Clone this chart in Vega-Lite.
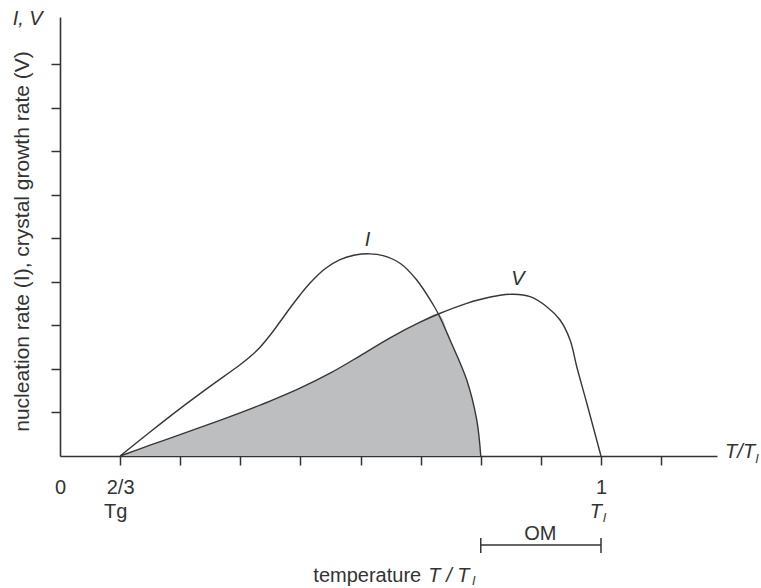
{
  "$schema": "https://vega.github.io/schema/vega-lite/v6.json",
  "autosize": "none",
  "width": 657,
  "height": 439,
  "padding": {"left": 60, "top": 17, "right": 44, "bottom": 132},
  "background": "white",
  "config": {
    "view": {"stroke": null},
    "font": "Liberation Sans",
    "text": {"font": "Liberation Sans", "color": "#333333", "fontSize": 20}
  },
  "datasets": {
    "curves": [
      {"curve": "I", "x": 1.0, "y": 0},
      {"curve": "I", "x": 1.498, "y": 0.551},
      {"curve": "I", "x": 1.997, "y": 1.088},
      {"curve": "I", "x": 2.496, "y": 1.598},
      {"curve": "I", "x": 2.995, "y": 2.094},
      {"curve": "I", "x": 3.161, "y": 2.278},
      {"curve": "I", "x": 3.328, "y": 2.496},
      {"curve": "I", "x": 3.494, "y": 2.772},
      {"curve": "I", "x": 3.661, "y": 3.082},
      {"curve": "I", "x": 3.827, "y": 3.398},
      {"curve": "I", "x": 3.993, "y": 3.697},
      {"curve": "I", "x": 4.16, "y": 3.972},
      {"curve": "I", "x": 4.409, "y": 4.3},
      {"curve": "I", "x": 4.659, "y": 4.51},
      {"curve": "I", "x": 4.909, "y": 4.615},
      {"curve": "I", "x": 5.158, "y": 4.642},
      {"curve": "I", "x": 5.374, "y": 4.6},
      {"curve": "I", "x": 5.657, "y": 4.425},
      {"curve": "I", "x": 5.935, "y": 4.041},
      {"curve": "I", "x": 6.211, "y": 3.467},
      {"curve": "I", "x": 6.295, "y": 3.261},
      {"curve": "I", "x": 6.489, "y": 2.664},
      {"curve": "I", "x": 6.767, "y": 1.745},
      {"curve": "I", "x": 6.933, "y": 0.827},
      {"curve": "I", "x": 7.0, "y": 0},
      {"curve": "V", "x": 1.0, "y": 0},
      {"curve": "V", "x": 1.498, "y": 0.248},
      {"curve": "V", "x": 1.997, "y": 0.489},
      {"curve": "V", "x": 2.496, "y": 0.737},
      {"curve": "V", "x": 2.995, "y": 0.992},
      {"curve": "V", "x": 3.494, "y": 1.261},
      {"curve": "V", "x": 3.993, "y": 1.557},
      {"curve": "V", "x": 4.493, "y": 1.901},
      {"curve": "V", "x": 4.992, "y": 2.301},
      {"curve": "V", "x": 5.491, "y": 2.714},
      {"curve": "V", "x": 5.99, "y": 3.072},
      {"curve": "V", "x": 6.295, "y": 3.261},
      {"curve": "V", "x": 6.767, "y": 3.506},
      {"curve": "V", "x": 6.988, "y": 3.593},
      {"curve": "V", "x": 7.321, "y": 3.69},
      {"curve": "V", "x": 7.542, "y": 3.713},
      {"curve": "V", "x": 7.82, "y": 3.658},
      {"curve": "V", "x": 8.098, "y": 3.428},
      {"curve": "V", "x": 8.319, "y": 3.123},
      {"curve": "V", "x": 8.486, "y": 2.664},
      {"curve": "V", "x": 8.597, "y": 2.05},
      {"curve": "V", "x": 8.764, "y": 1.21},
      {"curve": "V", "x": 9.0, "y": 0}
    ],
    "shade": [
      {"x": 1.0, "y": 0},
      {"x": 1.498, "y": 0.248},
      {"x": 1.997, "y": 0.489},
      {"x": 2.496, "y": 0.737},
      {"x": 2.995, "y": 0.992},
      {"x": 3.494, "y": 1.261},
      {"x": 3.993, "y": 1.557},
      {"x": 4.493, "y": 1.901},
      {"x": 4.992, "y": 2.301},
      {"x": 5.491, "y": 2.714},
      {"x": 5.99, "y": 3.072},
      {"x": 6.295, "y": 3.261},
      {"x": 6.489, "y": 2.664},
      {"x": 6.767, "y": 1.745},
      {"x": 6.933, "y": 0.827},
      {"x": 7.0, "y": 0}
    ]
  },
  "layer": [
    {
      "data": {"name": "shade"},
      "mark": {"type": "area", "color": "#bdbec0", "interpolate": "catmull-rom"},
      "encoding": {
        "x": {
          "field": "x", "type": "quantitative",
          "scale": {"domain": [0, 10.93], "nice": false, "zero": false},
          "axis": {
            "values": [0, 1, 2, 3, 4, 5, 6, 7, 8, 9, 10],
            "labelExpr": "datum.value == 0 ? '0' : datum.value == 1 ? '2/3' : datum.value == 9 ? '1' : ''",
            "title": null,
            "grid": false,
            "domainColor": "#333333", "domainWidth": 1.6,
            "tickColor": {"condition": {"test": "datum.value == 0", "value": "transparent"}, "value": "#333333"},
            "tickWidth": 1.5, "tickSize": 9,
            "labelFont": "Liberation Sans", "labelFontSize": 20, "labelColor": "#333333",
            "labelBaseline": "alphabetic", "labelPadding": 28, "labelFlush": false, "labelOverlap": false
          }
        },
        "y": {
          "field": "y", "type": "quantitative",
          "scale": {"domain": [0, 10.08], "nice": false, "zero": false},
          "axis": {
            "values": [1, 2, 3, 4, 5, 6, 7, 8, 9],
            "labels": false,
            "grid": false,
            "domainColor": "#333333", "domainWidth": 1.6,
            "tickColor": "#333333", "tickWidth": 1.5, "tickSize": 9,
            "title": "nucleation rate (I), crystal growth rate (V)",
            "titleFont": "Liberation Sans", "titleFontSize": 21, "titleFontWeight": "normal", "titleColor": "#333333",
            "titleX": -38, "titleY": 224, "titleAngle": 270, "titleBaseline": "middle", "titleAlign": "center"
          }
        }
      }
    },
    {
      "data": {"name": "curves"},
      "mark": {"type": "line", "color": "#363636", "strokeWidth": 1.4, "interpolate": "catmull-rom"},
      "encoding": {
        "x": {"field": "x", "type": "quantitative"},
        "y": {"field": "y", "type": "quantitative"},
        "detail": {"field": "curve"}
      }
    },
    {
      "data": {"values": [
        {"x": 7, "x2": 9, "y": -2.044, "y2": -2.044},
        {"x": 7, "x2": 7, "y": -1.883, "y2": -2.227},
        {"x": 9, "x2": 9, "y": -1.883, "y2": -2.227}
      ]},
      "mark": {"type": "rule", "color": "#333333", "strokeWidth": 1.5},
      "encoding": {
        "x": {"field": "x", "type": "quantitative"},
        "x2": {"field": "x2"},
        "y": {"field": "y", "type": "quantitative"},
        "y2": {"field": "y2"}
      }
    },
    {
      "data": {"values": [
        {"label": "I", "x": 5.117, "y": 4.822},
        {"label": "V", "x": 7.62, "y": 3.927},
        {"label": "T", "x": 8.915, "y": -1.43}
      ]},
      "mark": {"type": "text", "fontStyle": "italic", "align": "center", "baseline": "alphabetic"},
      "encoding": {
        "x": {"field": "x", "type": "quantitative"},
        "y": {"field": "y", "type": "quantitative"},
        "text": {"field": "label"}
      }
    },
    {
      "data": {"values": [
        {"label": "I, V", "x": -0.787, "y": 9.897},
        {"label": "T/T", "x": 11.065, "y": -0.046},
        {"label": "T / T", "x": 6.128, "y": -2.886}
      ]},
      "mark": {"type": "text", "fontStyle": "italic", "align": "left", "baseline": "alphabetic"},
      "encoding": {
        "x": {"field": "x", "type": "quantitative"},
        "y": {"field": "y", "type": "quantitative"},
        "text": {"field": "label"}
      }
    },
    {
      "data": {"values": [
        {"label": "Tg", "x": 0.927, "y": -1.424},
        {"label": "OM", "x": 7.99, "y": -1.929}
      ]},
      "mark": {"type": "text", "align": "center", "baseline": "alphabetic"},
      "encoding": {
        "x": {"field": "x", "type": "quantitative"},
        "y": {"field": "y", "type": "quantitative"},
        "text": {"field": "label"}
      }
    },
    {
      "data": {"values": [
        {"label": "temperature", "x": 4.215, "y": -2.886}
      ]},
      "mark": {"type": "text", "align": "left", "baseline": "alphabetic"},
      "encoding": {
        "x": {"field": "x", "type": "quantitative"},
        "y": {"field": "y", "type": "quantitative"},
        "text": {"field": "label"}
      }
    },
    {
      "data": {"values": [
        {"label": "l", "x": 11.572, "y": -0.161},
        {"label": "l", "x": 6.86, "y": -2.962},
        {"label": "l", "x": 9.035, "y": -1.515}
      ]},
      "mark": {"type": "text", "fontStyle": "italic", "fontSize": 13, "align": "left", "baseline": "alphabetic"},
      "encoding": {
        "x": {"field": "x", "type": "quantitative"},
        "y": {"field": "y", "type": "quantitative"},
        "text": {"field": "label"}
      }
    }
  ]
}
